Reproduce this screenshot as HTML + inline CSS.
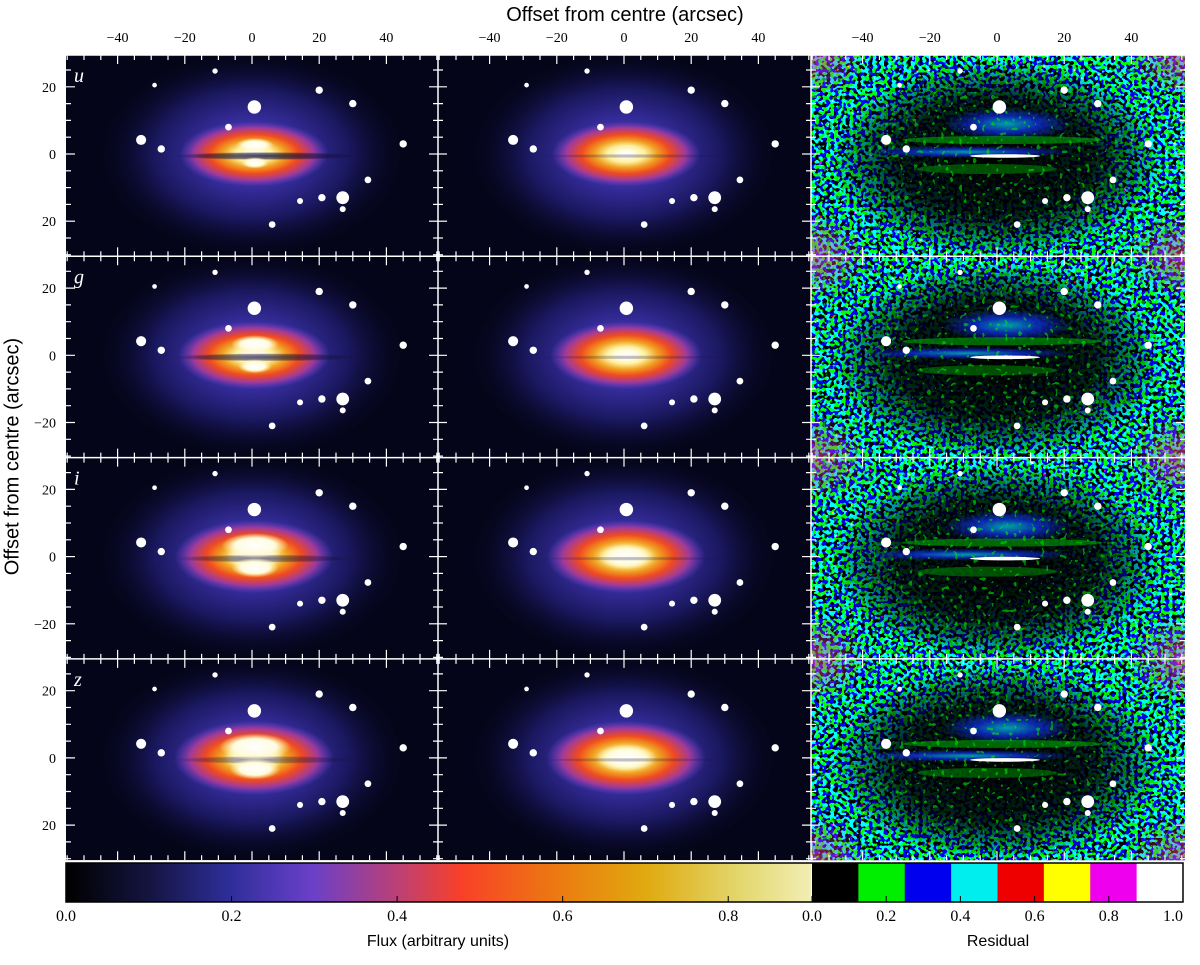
<!DOCTYPE html>
<html><head><meta charset="utf-8">
<style>
html,body{margin:0;padding:0;background:#fff;}
svg text{font-family:"Liberation Serif",serif;}
</style></head>
<body>
<svg id="fig" width="1200" height="960" viewBox="0 0 1200 960" xmlns="http://www.w3.org/2000/svg">
<defs>
  <radialGradient id="halo" cx="50%" cy="50%" r="50%">
    <stop offset="0" stop-color="#6040c8"/>
    <stop offset="0.35" stop-color="#3a30a8"/>
    <stop offset="0.65" stop-color="#1c1a66"/>
    <stop offset="1" stop-color="#0a0a30" stop-opacity="0"/>
  </radialGradient>
  <radialGradient id="bulge" cx="50%" cy="50%" r="50%">
    <stop offset="0" stop-color="#ffffff"/>
    <stop offset="0.25" stop-color="#fff2a0"/>
    <stop offset="0.42" stop-color="#f0a020"/>
    <stop offset="0.6" stop-color="#f04a20"/>
    <stop offset="0.8" stop-color="#a03a9a"/>
    <stop offset="1" stop-color="#6040c8" stop-opacity="0"/>
  </radialGradient>
  <radialGradient id="core" cx="50%" cy="50%" r="50%">
    <stop offset="0" stop-color="#ffffff"/>
    <stop offset="0.6" stop-color="#fffbe0"/>
    <stop offset="1" stop-color="#fff2a0" stop-opacity="0"/>
  </radialGradient>
  <radialGradient id="lane" cx="50%" cy="50%" r="50%">
    <stop offset="0" stop-color="#140e38"/>
    <stop offset="0.7" stop-color="#140e38" stop-opacity="0.7"/>
    <stop offset="1" stop-color="#140e38" stop-opacity="0"/>
  </radialGradient>
  <radialGradient id="resblack" cx="50%" cy="50%" r="50%">
    <stop offset="0" stop-color="#000"/>
    <stop offset="0.6" stop-color="#000" stop-opacity="0.85"/>
    <stop offset="0.85" stop-color="#000" stop-opacity="0.4"/>
    <stop offset="1" stop-color="#000" stop-opacity="0"/>
  </radialGradient>
  <radialGradient id="resblue" cx="50%" cy="50%" r="50%">
    <stop offset="0" stop-color="#00e0e8"/>
    <stop offset="0.5" stop-color="#1030f0"/>
    <stop offset="1" stop-color="#1030f0" stop-opacity="0"/>
  </radialGradient>
  <radialGradient id="warm" cx="50%" cy="50%" r="50%">
    <stop offset="0" stop-color="#ff40a0" stop-opacity="0.6"/>
    <stop offset="1" stop-color="#ff40a0" stop-opacity="0"/>
  </radialGradient>
  <linearGradient id="fluxcmap" x1="0" x2="1" y1="0" y2="0">
    <stop offset="0" stop-color="#000000"/>
    <stop offset="0.11" stop-color="#141440"/>
    <stop offset="0.22" stop-color="#2e2e9a"/>
    <stop offset="0.33" stop-color="#6a40c8"/>
    <stop offset="0.44" stop-color="#b8407a"/>
    <stop offset="0.53" stop-color="#f84028"/>
    <stop offset="0.66" stop-color="#ec7a10"/>
    <stop offset="0.78" stop-color="#e0aa10"/>
    <stop offset="0.9" stop-color="#e2d66a"/>
    <stop offset="1" stop-color="#f2eeb4"/>
  </linearGradient>
  <filter id="noise" x="0" y="0" width="100%" height="100%">
    <feTurbulence type="fractalNoise" baseFrequency="0.26" numOctaves="1" seed="3"/>
    <feComponentTransfer>
      <feFuncR type="discrete" tableValues="0 0 0 1"/>
      <feFuncG type="discrete" tableValues="0 1"/>
      <feFuncB type="discrete" tableValues="0 1"/>
      <feFuncA type="discrete" tableValues="1 1"/>
    </feComponentTransfer>
  </filter>
  <filter id="greennoise" x="0" y="0" width="100%" height="100%">
    <feTurbulence type="fractalNoise" baseFrequency="0.22" numOctaves="1" seed="11"/>
    <feColorMatrix type="matrix" values="0 0 0 0 0  0 0 0 0 0.9  0 0 0 0 0  0 1 0 0 0"/>
    <feComponentTransfer>
      <feFuncA type="discrete" tableValues="0 0 1"/>
    </feComponentTransfer>
  </filter>
</defs>
<g id="panels"></g>
<g id="axes"></g>
</svg>
<script>
const NS="http://www.w3.org/2000/svg";
// ---- data ----
const bands=["u","g","i","z"];
const coreScale=[0.8,1.0,1.4,1.5];
const laneStrength=[0.8,0.7,0.55,0.45];
// star positions in arcsec (x, y) and radius in arcsec
const starX=[-11,-29,20,30,0.7,-7,-33,-27,45,34.5,14.3,20.8,27,27,6];
const starY=[24.7,20.5,19,15,14,8,4.2,1.5,3,-7.7,-14,-13,-13,-16.4,-21];
const starR=[0.8,0.7,1.1,1.1,2.0,1.0,1.5,1.1,1.1,1.0,0.9,1.1,1.9,0.9,1.0];
const xTicks=[-40,-20,0,20,40];
const yTicks=[20,0,-20];
const fluxTicks=[0.0,0.2,0.4,0.6,0.8];
const resTicks=[0.0,0.2,0.4,0.6,0.8,1.0];
const resColors=["#000000","#00ee00","#0000ee","#00eeee","#ee0000","#ffff00","#ee00ee","#ffffff"];
// ---- geometry ----
const colX=[66,438,811], colW=[372,373,374];
const rowY0=55, rowH=201.3;
const S=3.36;
const fluxX0=66, fluxX1=811, fluxMax=0.9;
const resX0=812, resX1=1183;
const barY=863, barH=39;
function fx(v){return fluxX0+(v/fluxMax)*(fluxX1-fluxX0);}
function rx(v){return resX0+v*(resX1-resX0);}
function el(tag,attrs,parent){const e=document.createElementNS(NS,tag);for(const k in attrs)e.setAttribute(k,attrs[k]);parent.appendChild(e);return e;}
const panels=document.getElementById('panels');
const axes=document.getElementById('axes');
const defs=document.querySelector('defs');

for(let r=0;r<4;r++){
  const y0=rowY0+r*rowH;
  for(let c=0;c<3;c++){
    const x0=colX[c], w=colW[c];
    const cx=x0+186, cy=y0+99;
    const X=a=>cx+a*S, Y=a=>cy-a*S;
    const cp=el('clipPath',{id:'cp'+r+c},defs);
    el('rect',{x:x0,y:y0,width:w,height:rowH},cp);
    const g=el('g',{'clip-path':'url(#cp'+r+c+')'},panels);
    
    
    if(c<2){
      el('rect',{x:x0,y:y0,width:w,height:rowH,fill:'#05051a'},g);
      el('ellipse',{cx:cx,cy:cy,rx:150,ry:100,fill:'url(#halo)',opacity:0.9},g);
      const k=coreScale[r];
      el('ellipse',{cx:cx+2,cy:cy,rx:68+8*k,ry:28+6*k,fill:'url(#bulge)'},g);
      el('ellipse',{cx:cx+2,cy:cy,rx:20*k,ry:9*k,fill:'url(#core)'},g);
      if(c===0){
        const lane=el('ellipse',{cx:cx+15,cy:cy+2,rx:95,ry:4,fill:'url(#lane)','opacity':laneStrength[r]},g);
        
        
        el('ellipse',{cx:cx+3,cy:cy-11*Math.min(k,1),rx:24*k,ry:9*k,fill:'url(#core)'},g);
        el('ellipse',{cx:cx+3,cy:cy+11*Math.min(k,1),rx:17*k,ry:7*k,fill:'url(#core)'},g);
      } else {
        el('ellipse',{cx:cx+10,cy:cy+2,rx:100,ry:2,fill:'url(#lane)','opacity':0.3},g);
      }
    } else {
      el('rect',{x:x0,y:y0,width:w,height:rowH,fill:'#000',filter:'url(#noise)'},g);
      for(const [ax,ay] of [[x0,y0],[x0+w,y0],[x0,y0+rowH],[x0+w,y0+rowH]]){
        el('ellipse',{cx:ax,cy:ay,rx:60,ry:45,fill:'url(#warm)'},g);
      }
      el('ellipse',{cx:cx,cy:cy+5,rx:165,ry:98,fill:'url(#resblack)'},g);
      el('ellipse',{cx:cx+10,cy:cy-30,rx:65,ry:16,fill:'url(#resblue)',opacity:0.7},g);
      el('ellipse',{cx:cx-30,cy:cy-2,rx:110,ry:6,fill:'url(#resblue)',opacity:0.7},g);
      el('rect',{x:x0,y:y0,width:w,height:rowH,fill:'#000',filter:'url(#greennoise)',opacity:0.55},g);
      el('ellipse',{cx:cx+5,cy:cy-14,rx:100,ry:4,fill:'#00dd00',opacity:0.45},g);
      el('ellipse',{cx:cx-10,cy:cy+15,rx:70,ry:5,fill:'#00dd00',opacity:0.35},g);
      const wl=el('ellipse',{cx:cx+8,cy:cy+2,rx:35,ry:1.8,fill:'#ffffff'},g);
      
      
    }
    for(let i=0;i<starX.length;i++){
      const s=el('circle',{cx:X(starX[i]),cy:Y(starY[i]),r:starR[i]*S,fill:'#fff'},g);
      
      
    }
    const tk=el('g',{stroke:'#fff','stroke-width':1.2},g);
    for(let a=-55;a<=55;a+=5){
      const px=X(a); const L=(a%20===0)?9:5;
      el('line',{x1:px,y1:y0,x2:px,y2:y0+L},tk);
      el('line',{x1:px,y1:y0+rowH,x2:px,y2:y0+rowH-L},tk);
    }
    for(let a=-30;a<=30;a+=5){
      const py=Y(a); const L=(a%20===0)?9:5;
      el('line',{x1:x0,y1:py,x2:x0+L,y2:py},tk);
      el('line',{x1:x0+w,y1:py,x2:x0+w-L,y2:py},tk);
    }
    if(c===0){
      const t=el('text',{x:x0+8,y:y0+27,fill:'#fff','font-size':20,'font-style':'italic'},g);
      t.textContent=bands[r];
      
      
    }
  }
  el('line',{x1:66,y1:y0,x2:1185,y2:y0,stroke:'#fff','stroke-width':1.5},axes);
  for(const v of yTicks){
    const t=el('text',{x:56,y:rowY0+r*rowH+99-v*S+5,'text-anchor':'end','font-size':14,fill:'#000'},axes);
    t.textContent=(r===0||r===3)?String(Math.abs(v)):(v<0?'−'+(-v):String(v));
    
    
  }
}
for(let c=0;c<2;c++){
  el('line',{x1:colX[c+1],y1:55,x2:colX[c+1],y2:860,stroke:'#fff','stroke-width':1.5},axes);
}
for(let c=0;c<3;c++){
  for(const v of xTicks){
    const t=el('text',{x:colX[c]+186+v*S,y:42,'text-anchor':'middle','font-size':14,fill:'#000'},axes);
    t.textContent=v<0?'−'+(-v):String(v);
    
    
  }
}
const fb=el('rect',{x:fluxX0,y:barY,width:fluxX1-fluxX0,height:barH,fill:'url(#fluxcmap)'},axes);


for(let i=0;i<resColors.length;i++){
  const b=el('rect',{x:rx(i/8),y:barY,width:(resX1-resX0)/8+0.5,height:barH,fill:resColors[i]},axes);
  
  
}
el('rect',{x:fluxX0,y:barY,width:resX1-fluxX0,height:barH,fill:'none',stroke:'#000','stroke-width':1.5},axes);
for(const v of fluxTicks){
  el('line',{x1:fx(v),y1:barY+barH,x2:fx(v),y2:barY+barH-6,stroke:'#000'},axes);
  const t=el('text',{x:fx(v),y:921,'text-anchor':'middle','font-size':16,fill:'#000'},axes);
  t.textContent=v.toFixed(1);
  
  
}
for(const v of resTicks){
  el('line',{x1:rx(v),y1:barY+barH,x2:rx(v),y2:barY+barH-6,stroke:'#000'},axes);
  const t=el('text',{x:rx(v),y:921,'text-anchor':v===1?'end':'middle','font-size':16,fill:'#000'},axes);
  t.textContent=v.toFixed(1);
  
  
}
</script>
<div style="position:absolute;left:0;top:0;width:1200px;height:960px;pointer-events:none;">
  <div style="position:absolute;left:0;width:1250px;top:4px;text-align:center;font:20px 'Liberation Sans',sans-serif;">Offset from centre (arcsec)</div>
  <div style="position:absolute;left:-137px;top:445px;width:300px;text-align:center;font:20px 'Liberation Sans',sans-serif;transform:rotate(-90deg);">Offset from centre (arcsec)</div>
  <div style="position:absolute;left:288px;width:300px;top:933px;text-align:center;font:16px 'Liberation Sans',sans-serif;">Flux (arbitrary units)</div>
  <div style="position:absolute;left:898px;width:200px;top:933px;text-align:center;font:16px 'Liberation Sans',sans-serif;">Residual</div>
</div>
</body></html>
